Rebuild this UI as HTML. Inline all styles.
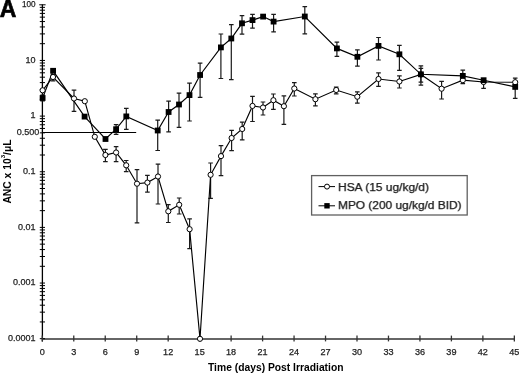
<!DOCTYPE html><html><head><meta charset="utf-8"><style>
html,body{margin:0;padding:0;background:#fff;}
body{width:520px;height:374px;overflow:hidden;position:relative;}
svg{position:absolute;left:0;top:0;filter:grayscale(1);}
text{font-family:"Liberation Sans",sans-serif;fill:#222;}
.t{stroke:#222;stroke-width:0.25;}
</style></head><body>
<svg width="520" height="374" viewBox="0 0 520 374">
<text x="-0.3" y="16.8" font-size="24.5" font-weight="bold" textLength="16.6" lengthAdjust="spacingAndGlyphs" style="fill:#000;stroke:#000;stroke-width:0.7">A</text>
<line x1="42.4" y1="4.6" x2="42.4" y2="341.5" stroke="#000" stroke-width="1.3"/>
<line x1="42.4" y1="338.9" x2="514.6" y2="338.9" stroke="#666" stroke-width="2"/>
<line x1="39.8" y1="338.70" x2="45.0" y2="338.70" stroke="#000" stroke-width="1"/>
<line x1="39.8" y1="321.95" x2="45.0" y2="321.95" stroke="#000" stroke-width="1"/>
<line x1="39.8" y1="312.15" x2="45.0" y2="312.15" stroke="#000" stroke-width="1"/>
<line x1="39.8" y1="305.20" x2="45.0" y2="305.20" stroke="#000" stroke-width="1"/>
<line x1="39.8" y1="299.80" x2="45.0" y2="299.80" stroke="#000" stroke-width="1"/>
<line x1="39.8" y1="295.40" x2="45.0" y2="295.40" stroke="#000" stroke-width="1"/>
<line x1="39.8" y1="291.67" x2="45.0" y2="291.67" stroke="#000" stroke-width="1"/>
<line x1="39.8" y1="288.44" x2="45.0" y2="288.44" stroke="#000" stroke-width="1"/>
<line x1="39.8" y1="285.60" x2="45.0" y2="285.60" stroke="#000" stroke-width="1"/>
<line x1="39.8" y1="283.05" x2="45.0" y2="283.05" stroke="#000" stroke-width="1"/>
<line x1="39.8" y1="266.30" x2="45.0" y2="266.30" stroke="#000" stroke-width="1"/>
<line x1="39.8" y1="256.50" x2="45.0" y2="256.50" stroke="#000" stroke-width="1"/>
<line x1="39.8" y1="249.55" x2="45.0" y2="249.55" stroke="#000" stroke-width="1"/>
<line x1="39.8" y1="244.15" x2="45.0" y2="244.15" stroke="#000" stroke-width="1"/>
<line x1="39.8" y1="239.75" x2="45.0" y2="239.75" stroke="#000" stroke-width="1"/>
<line x1="39.8" y1="236.02" x2="45.0" y2="236.02" stroke="#000" stroke-width="1"/>
<line x1="39.8" y1="232.79" x2="45.0" y2="232.79" stroke="#000" stroke-width="1"/>
<line x1="39.8" y1="229.95" x2="45.0" y2="229.95" stroke="#000" stroke-width="1"/>
<line x1="39.8" y1="227.40" x2="45.0" y2="227.40" stroke="#000" stroke-width="1"/>
<line x1="39.8" y1="210.65" x2="45.0" y2="210.65" stroke="#000" stroke-width="1"/>
<line x1="39.8" y1="200.85" x2="45.0" y2="200.85" stroke="#000" stroke-width="1"/>
<line x1="39.8" y1="193.90" x2="45.0" y2="193.90" stroke="#000" stroke-width="1"/>
<line x1="39.8" y1="188.50" x2="45.0" y2="188.50" stroke="#000" stroke-width="1"/>
<line x1="39.8" y1="184.10" x2="45.0" y2="184.10" stroke="#000" stroke-width="1"/>
<line x1="39.8" y1="180.37" x2="45.0" y2="180.37" stroke="#000" stroke-width="1"/>
<line x1="39.8" y1="177.14" x2="45.0" y2="177.14" stroke="#000" stroke-width="1"/>
<line x1="39.8" y1="174.30" x2="45.0" y2="174.30" stroke="#000" stroke-width="1"/>
<line x1="39.8" y1="171.75" x2="45.0" y2="171.75" stroke="#000" stroke-width="1"/>
<line x1="39.8" y1="155.00" x2="45.0" y2="155.00" stroke="#000" stroke-width="1"/>
<line x1="39.8" y1="145.20" x2="45.0" y2="145.20" stroke="#000" stroke-width="1"/>
<line x1="39.8" y1="138.25" x2="45.0" y2="138.25" stroke="#000" stroke-width="1"/>
<line x1="39.8" y1="132.85" x2="45.0" y2="132.85" stroke="#000" stroke-width="1"/>
<line x1="39.8" y1="128.45" x2="45.0" y2="128.45" stroke="#000" stroke-width="1"/>
<line x1="39.8" y1="124.72" x2="45.0" y2="124.72" stroke="#000" stroke-width="1"/>
<line x1="39.8" y1="121.49" x2="45.0" y2="121.49" stroke="#000" stroke-width="1"/>
<line x1="39.8" y1="118.65" x2="45.0" y2="118.65" stroke="#000" stroke-width="1"/>
<line x1="39.8" y1="116.10" x2="45.0" y2="116.10" stroke="#000" stroke-width="1"/>
<line x1="39.8" y1="99.35" x2="45.0" y2="99.35" stroke="#000" stroke-width="1"/>
<line x1="39.8" y1="89.55" x2="45.0" y2="89.55" stroke="#000" stroke-width="1"/>
<line x1="39.8" y1="82.60" x2="45.0" y2="82.60" stroke="#000" stroke-width="1"/>
<line x1="39.8" y1="77.20" x2="45.0" y2="77.20" stroke="#000" stroke-width="1"/>
<line x1="39.8" y1="72.80" x2="45.0" y2="72.80" stroke="#000" stroke-width="1"/>
<line x1="39.8" y1="69.07" x2="45.0" y2="69.07" stroke="#000" stroke-width="1"/>
<line x1="39.8" y1="65.84" x2="45.0" y2="65.84" stroke="#000" stroke-width="1"/>
<line x1="39.8" y1="63.00" x2="45.0" y2="63.00" stroke="#000" stroke-width="1"/>
<line x1="39.8" y1="60.45" x2="45.0" y2="60.45" stroke="#000" stroke-width="1"/>
<line x1="39.8" y1="43.70" x2="45.0" y2="43.70" stroke="#000" stroke-width="1"/>
<line x1="39.8" y1="33.90" x2="45.0" y2="33.90" stroke="#000" stroke-width="1"/>
<line x1="39.8" y1="26.95" x2="45.0" y2="26.95" stroke="#000" stroke-width="1"/>
<line x1="39.8" y1="21.55" x2="45.0" y2="21.55" stroke="#000" stroke-width="1"/>
<line x1="39.8" y1="17.15" x2="45.0" y2="17.15" stroke="#000" stroke-width="1"/>
<line x1="39.8" y1="13.42" x2="45.0" y2="13.42" stroke="#000" stroke-width="1"/>
<line x1="39.8" y1="10.19" x2="45.0" y2="10.19" stroke="#000" stroke-width="1"/>
<line x1="39.8" y1="7.35" x2="45.0" y2="7.35" stroke="#000" stroke-width="1"/>
<line x1="39.199999999999996" y1="4.80" x2="45.6" y2="4.80" stroke="#000" stroke-width="1"/>
<line x1="42.30" y1="335.6" x2="42.30" y2="341.4" stroke="#333" stroke-width="1.3"/>
<line x1="73.77" y1="335.6" x2="73.77" y2="341.4" stroke="#333" stroke-width="1.3"/>
<line x1="105.24" y1="335.6" x2="105.24" y2="341.4" stroke="#333" stroke-width="1.3"/>
<line x1="136.71" y1="335.6" x2="136.71" y2="341.4" stroke="#333" stroke-width="1.3"/>
<line x1="168.18" y1="335.6" x2="168.18" y2="341.4" stroke="#333" stroke-width="1.3"/>
<line x1="199.65" y1="335.6" x2="199.65" y2="341.4" stroke="#333" stroke-width="1.3"/>
<line x1="231.12" y1="335.6" x2="231.12" y2="341.4" stroke="#333" stroke-width="1.3"/>
<line x1="262.59" y1="335.6" x2="262.59" y2="341.4" stroke="#333" stroke-width="1.3"/>
<line x1="294.06" y1="335.6" x2="294.06" y2="341.4" stroke="#333" stroke-width="1.3"/>
<line x1="325.53" y1="335.6" x2="325.53" y2="341.4" stroke="#333" stroke-width="1.3"/>
<line x1="357.00" y1="335.6" x2="357.00" y2="341.4" stroke="#333" stroke-width="1.3"/>
<line x1="388.47" y1="335.6" x2="388.47" y2="341.4" stroke="#333" stroke-width="1.3"/>
<line x1="419.94" y1="335.6" x2="419.94" y2="341.4" stroke="#333" stroke-width="1.3"/>
<line x1="451.41" y1="335.6" x2="451.41" y2="341.4" stroke="#333" stroke-width="1.3"/>
<line x1="482.88" y1="335.6" x2="482.88" y2="341.4" stroke="#333" stroke-width="1.3"/>
<line x1="514.35" y1="335.6" x2="514.35" y2="341.4" stroke="#333" stroke-width="1.3"/>
<text x="42.30" y="355.4" font-size="9.1" text-anchor="middle" class="t">0</text>
<text x="73.77" y="355.4" font-size="9.1" text-anchor="middle" class="t">3</text>
<text x="105.24" y="355.4" font-size="9.1" text-anchor="middle" class="t">6</text>
<text x="136.71" y="355.4" font-size="9.1" text-anchor="middle" class="t">9</text>
<text x="168.18" y="355.4" font-size="9.1" text-anchor="middle" class="t">12</text>
<text x="199.65" y="355.4" font-size="9.1" text-anchor="middle" class="t">15</text>
<text x="231.12" y="355.4" font-size="9.1" text-anchor="middle" class="t">18</text>
<text x="262.59" y="355.4" font-size="9.1" text-anchor="middle" class="t">21</text>
<text x="294.06" y="355.4" font-size="9.1" text-anchor="middle" class="t">24</text>
<text x="325.53" y="355.4" font-size="9.1" text-anchor="middle" class="t">27</text>
<text x="357.00" y="355.4" font-size="9.1" text-anchor="middle" class="t">30</text>
<text x="388.47" y="355.4" font-size="9.1" text-anchor="middle" class="t">33</text>
<text x="419.94" y="355.4" font-size="9.1" text-anchor="middle" class="t">36</text>
<text x="451.41" y="355.4" font-size="9.1" text-anchor="middle" class="t">39</text>
<text x="482.88" y="355.4" font-size="9.1" text-anchor="middle" class="t">42</text>
<text x="514.35" y="355.4" font-size="9.1" text-anchor="middle" class="t">45</text>
<text x="35.6" y="6.90" font-size="9" text-anchor="end" class="t" textLength="13.6" lengthAdjust="spacingAndGlyphs">100</text>
<text x="35.6" y="62.55" font-size="9" text-anchor="end" class="t">10</text>
<text x="35.6" y="118.20" font-size="9" text-anchor="end" class="t">1</text>
<text x="35.6" y="173.85" font-size="9" text-anchor="end" class="t">0.1</text>
<text x="35.6" y="229.50" font-size="9" text-anchor="end" class="t">0.01</text>
<text x="35.6" y="285.15" font-size="9" text-anchor="end" class="t">0.001</text>
<text x="35.6" y="340.80" font-size="9" text-anchor="end" class="t">0.0001</text>
<text x="39.2" y="135.3" font-size="9" text-anchor="end" class="t">0.500</text>
<line x1="42.4" y1="132.5" x2="136.2" y2="132.5" stroke="#000" stroke-width="1"/>
<text x="208" y="370.5" font-size="10.7" font-weight="bold" textLength="135.5" lengthAdjust="spacingAndGlyphs" style="fill:#000">Time (days) Post Irradiation</text>
<text transform="translate(10.6,171.5) rotate(-90)" font-size="10.3" font-weight="bold" text-anchor="middle" style="fill:#000">ANC x 10<tspan font-size="6.2" dy="-5.2">3</tspan><tspan dy="5.2">/</tspan>μL</text>
<path d="M53.0,74.6 V80.9 M50.7,74.6 H55.3 M50.7,80.9 H55.3 M74.0,90.2 V111.4 M71.7,90.2 H76.3 M71.7,111.4 H76.3 M105.4,149.3 V161.7 M103.1,149.3 H107.7 M103.1,161.7 H107.7 M116.1,146.6 V161.7 M113.8,146.6 H118.4 M113.8,161.7 H118.4 M126.2,160.5 V171.7 M123.9,160.5 H128.5 M123.9,171.7 H128.5 M137.0,169.6 V222.9 M134.7,169.6 H139.3 M134.7,222.9 H139.3 M147.4,175.4 V192.2 M145.1,175.4 H149.7 M145.1,192.2 H149.7 M158.0,164.1 V204.0 M155.7,164.1 H160.3 M155.7,204.0 H160.3 M168.3,204.7 V222.5 M166.0,204.7 H170.6 M166.0,222.5 H170.6 M179.2,198.0 V214.0 M176.9,198.0 H181.5 M176.9,214.0 H181.5 M189.6,218.8 V248.6 M187.3,218.8 H191.9 M187.3,248.6 H191.9 M210.6,163.0 V198.4 M208.3,163.0 H212.9 M208.3,198.4 H212.9 M221.0,145.6 V175.7 M218.7,145.6 H223.3 M218.7,175.7 H223.3 M231.6,130.4 V150.7 M229.3,130.4 H233.9 M229.3,150.7 H233.9 M242.2,122.1 V139.9 M239.9,122.1 H244.5 M239.9,139.9 H244.5 M252.5,96.4 V121.5 M250.2,96.4 H254.8 M250.2,121.5 H254.8 M263.0,102.0 V115.0 M260.7,102.0 H265.3 M260.7,115.0 H265.3 M273.4,94.0 V109.4 M271.1,94.0 H275.7 M271.1,109.4 H275.7 M283.9,95.9 V124.4 M281.6,95.9 H286.2 M281.6,124.4 H286.2 M294.3,82.7 V96.0 M292.0,82.7 H296.6 M292.0,96.0 H296.6 M315.4,93.8 V105.8 M313.1,93.8 H317.7 M313.1,105.8 H317.7 M336.2,87.1 V93.8 M333.9,87.1 H338.5 M333.9,93.8 H338.5 M357.3,91.9 V103.1 M355.0,91.9 H359.6 M355.0,103.1 H359.6 M378.5,72.9 V86.4 M376.2,72.9 H380.8 M376.2,86.4 H380.8 M399.4,75.9 V88.0 M397.1,75.9 H401.7 M397.1,88.0 H401.7 M420.9,65.8 V82.1 M418.6,65.8 H423.2 M418.6,82.1 H423.2 M441.6,81.4 V99.0 M439.3,81.4 H443.9 M439.3,99.0 H443.9 M462.8,76.0 V83.6 M460.5,76.0 H465.1 M460.5,83.6 H465.1 M483.6,81.0 V88.4 M481.3,81.0 H485.9 M481.3,88.4 H485.9 M515.2,78.2 V85.0 M512.9,78.2 H517.5 M512.9,85.0 H517.5" stroke="#1a1a1a" stroke-width="1.2" fill="none"/>
<path d="M42.6,95.0 V101.0 M40.3,95.0 H44.9 M40.3,101.0 H44.9 M116.1,124.6 V134.3 M113.8,124.6 H118.4 M113.8,134.3 H118.4 M126.3,108.4 V129.4 M124.0,108.4 H128.6 M124.0,129.4 H128.6 M157.7,120.2 V150.5 M155.4,120.2 H160.0 M155.4,150.5 H160.0 M168.6,101.1 V131.8 M166.3,101.1 H170.9 M166.3,131.8 H170.9 M179.0,93.1 V127.4 M176.7,93.1 H181.3 M176.7,127.4 H181.3 M189.5,83.1 V121.0 M187.2,83.1 H191.8 M187.2,121.0 H191.8 M200.1,63.2 V97.4 M197.8,63.2 H202.4 M197.8,97.4 H202.4 M220.9,34.0 V78.5 M218.6,34.0 H223.2 M218.6,78.5 H223.2 M231.3,24.6 V79.6 M229.0,24.6 H233.6 M229.0,79.6 H233.6 M242.0,15.6 V34.2 M239.7,15.6 H244.3 M239.7,34.2 H244.3 M252.5,14.4 V28.1 M250.2,14.4 H254.8 M250.2,28.1 H254.8 M273.6,14.3 V31.8 M271.3,14.3 H275.9 M271.3,31.8 H275.9 M304.8,6.7 V33.8 M302.5,6.7 H307.1 M302.5,33.8 H307.1 M336.9,42.2 V56.4 M334.6,42.2 H339.2 M334.6,56.4 H339.2 M357.4,49.9 V66.1 M355.1,49.9 H359.7 M355.1,66.1 H359.7 M378.5,37.5 V60.0 M376.2,37.5 H380.8 M376.2,60.0 H380.8 M399.4,45.4 V70.3 M397.1,45.4 H401.7 M397.1,70.3 H401.7 M420.9,68.3 V85.1 M418.6,68.3 H423.2 M418.6,85.1 H423.2 M462.8,70.1 V80.0 M460.5,70.1 H465.1 M460.5,80.0 H465.1 M515.2,82.0 V98.4 M512.9,82.0 H517.5 M512.9,98.4 H517.5" stroke="#1a1a1a" stroke-width="1.2" fill="none"/>
<path d="M42.6,90.3 L53.0,77.0 L74.0,98.5 L84.8,101.2 L94.8,136.8 L105.4,155.0 L116.1,152.5 L126.2,165.3 L137.0,183.7 L147.4,182.6 L158.0,176.5 L168.3,211.3 L179.2,204.8 L189.6,229.2 L200.0,338.8 L210.6,174.8 L221.0,156.1 L231.6,138.0 L242.2,129.0 L252.5,105.9 L263.0,107.5 L273.4,100.2 L283.9,106.2 L294.3,88.5 L315.4,99.2 L336.2,90.0 L357.3,96.7 L378.5,79.0 L399.4,81.5 L420.9,74.5 L441.6,88.7 L462.8,80.2 L483.6,82.0 L515.2,82.2" stroke="#000" stroke-width="1.15" fill="none"/>
<path d="M42.6,98.0 L53.1,70.8 L84.6,116.6 L105.5,139.0 L116.1,129.2 L126.3,116.4 L157.7,130.5 L168.6,112.0 L179.0,104.5 L189.5,95.1 L200.1,75.0 L220.9,47.4 L231.3,38.5 L242.0,23.3 L252.5,20.1 L263.1,16.6 L273.6,21.6 L304.8,16.5 L336.9,48.4 L357.4,56.8 L378.5,45.9 L399.4,54.3 L420.9,74.3 L462.8,75.9 L483.6,80.2 L515.2,86.9" stroke="#000" stroke-width="1.15" fill="none"/>
<circle cx="42.6" cy="90.3" r="2.6" fill="#fff" stroke="#000" stroke-width="1"/>
<circle cx="53.0" cy="77.0" r="2.6" fill="#fff" stroke="#000" stroke-width="1"/>
<circle cx="74.0" cy="98.5" r="2.6" fill="#fff" stroke="#000" stroke-width="1"/>
<circle cx="84.8" cy="101.2" r="2.6" fill="#fff" stroke="#000" stroke-width="1"/>
<circle cx="94.8" cy="136.8" r="2.6" fill="#fff" stroke="#000" stroke-width="1"/>
<circle cx="105.4" cy="155.0" r="2.6" fill="#fff" stroke="#000" stroke-width="1"/>
<circle cx="116.1" cy="152.5" r="2.6" fill="#fff" stroke="#000" stroke-width="1"/>
<circle cx="126.2" cy="165.3" r="2.6" fill="#fff" stroke="#000" stroke-width="1"/>
<circle cx="137.0" cy="183.7" r="2.6" fill="#fff" stroke="#000" stroke-width="1"/>
<circle cx="147.4" cy="182.6" r="2.6" fill="#fff" stroke="#000" stroke-width="1"/>
<circle cx="158.0" cy="176.5" r="2.6" fill="#fff" stroke="#000" stroke-width="1"/>
<circle cx="168.3" cy="211.3" r="2.6" fill="#fff" stroke="#000" stroke-width="1"/>
<circle cx="179.2" cy="204.8" r="2.6" fill="#fff" stroke="#000" stroke-width="1"/>
<circle cx="189.6" cy="229.2" r="2.6" fill="#fff" stroke="#000" stroke-width="1"/>
<circle cx="200.0" cy="338.8" r="2.6" fill="#fff" stroke="#000" stroke-width="1"/>
<circle cx="210.6" cy="174.8" r="2.6" fill="#fff" stroke="#000" stroke-width="1"/>
<circle cx="221.0" cy="156.1" r="2.6" fill="#fff" stroke="#000" stroke-width="1"/>
<circle cx="231.6" cy="138.0" r="2.6" fill="#fff" stroke="#000" stroke-width="1"/>
<circle cx="242.2" cy="129.0" r="2.6" fill="#fff" stroke="#000" stroke-width="1"/>
<circle cx="252.5" cy="105.9" r="2.6" fill="#fff" stroke="#000" stroke-width="1"/>
<circle cx="263.0" cy="107.5" r="2.6" fill="#fff" stroke="#000" stroke-width="1"/>
<circle cx="273.4" cy="100.2" r="2.6" fill="#fff" stroke="#000" stroke-width="1"/>
<circle cx="283.9" cy="106.2" r="2.6" fill="#fff" stroke="#000" stroke-width="1"/>
<circle cx="294.3" cy="88.5" r="2.6" fill="#fff" stroke="#000" stroke-width="1"/>
<circle cx="315.4" cy="99.2" r="2.6" fill="#fff" stroke="#000" stroke-width="1"/>
<circle cx="336.2" cy="90.0" r="2.6" fill="#fff" stroke="#000" stroke-width="1"/>
<circle cx="357.3" cy="96.7" r="2.6" fill="#fff" stroke="#000" stroke-width="1"/>
<circle cx="378.5" cy="79.0" r="2.6" fill="#fff" stroke="#000" stroke-width="1"/>
<circle cx="399.4" cy="81.5" r="2.6" fill="#fff" stroke="#000" stroke-width="1"/>
<circle cx="420.9" cy="74.5" r="2.6" fill="#fff" stroke="#000" stroke-width="1"/>
<circle cx="441.6" cy="88.7" r="2.6" fill="#fff" stroke="#000" stroke-width="1"/>
<circle cx="462.8" cy="80.2" r="2.6" fill="#fff" stroke="#000" stroke-width="1"/>
<circle cx="483.6" cy="82.0" r="2.6" fill="#fff" stroke="#000" stroke-width="1"/>
<circle cx="515.2" cy="82.2" r="2.6" fill="#fff" stroke="#000" stroke-width="1"/>
<rect x="39.70" y="95.10" width="5.8" height="5.8" fill="#000"/>
<rect x="50.20" y="67.90" width="5.8" height="5.8" fill="#000"/>
<rect x="81.70" y="113.70" width="5.8" height="5.8" fill="#000"/>
<rect x="102.60" y="136.10" width="5.8" height="5.8" fill="#000"/>
<rect x="113.20" y="126.30" width="5.8" height="5.8" fill="#000"/>
<rect x="123.40" y="113.50" width="5.8" height="5.8" fill="#000"/>
<rect x="154.80" y="127.60" width="5.8" height="5.8" fill="#000"/>
<rect x="165.70" y="109.10" width="5.8" height="5.8" fill="#000"/>
<rect x="176.10" y="101.60" width="5.8" height="5.8" fill="#000"/>
<rect x="186.60" y="92.20" width="5.8" height="5.8" fill="#000"/>
<rect x="197.20" y="72.10" width="5.8" height="5.8" fill="#000"/>
<rect x="218.00" y="44.50" width="5.8" height="5.8" fill="#000"/>
<rect x="228.40" y="35.60" width="5.8" height="5.8" fill="#000"/>
<rect x="239.10" y="20.40" width="5.8" height="5.8" fill="#000"/>
<rect x="249.60" y="17.20" width="5.8" height="5.8" fill="#000"/>
<rect x="260.20" y="13.70" width="5.8" height="5.8" fill="#000"/>
<rect x="270.70" y="18.70" width="5.8" height="5.8" fill="#000"/>
<rect x="301.90" y="13.60" width="5.8" height="5.8" fill="#000"/>
<rect x="334.00" y="45.50" width="5.8" height="5.8" fill="#000"/>
<rect x="354.50" y="53.90" width="5.8" height="5.8" fill="#000"/>
<rect x="375.60" y="43.00" width="5.8" height="5.8" fill="#000"/>
<rect x="396.50" y="51.40" width="5.8" height="5.8" fill="#000"/>
<rect x="418.00" y="71.40" width="5.8" height="5.8" fill="#000"/>
<rect x="459.90" y="73.00" width="5.8" height="5.8" fill="#000"/>
<rect x="480.70" y="77.30" width="5.8" height="5.8" fill="#000"/>
<rect x="512.30" y="84.00" width="5.8" height="5.8" fill="#000"/>
<rect x="311.6" y="175.6" width="155.6" height="39.4" fill="#fff" stroke="#606060" stroke-width="1.3"/>
<line x1="318.5" y1="186.6" x2="335" y2="186.6" stroke="#000" stroke-width="1"/>
<circle cx="327" cy="186.6" r="2.5" fill="#fff" stroke="#000" stroke-width="1"/>
<text x="338" y="190.5" font-size="10" textLength="91" lengthAdjust="spacingAndGlyphs" class="t">HSA (15 ug/kg/d)</text>
<line x1="318.5" y1="205.8" x2="335" y2="205.8" stroke="#000" stroke-width="1"/>
<rect x="324.3" y="203.1" width="5.4" height="5.4" fill="#000"/>
<text x="338" y="209.2" font-size="10" textLength="123.5" lengthAdjust="spacingAndGlyphs" class="t">MPO (200 ug/kg/d BID)</text>
</svg></body></html>
